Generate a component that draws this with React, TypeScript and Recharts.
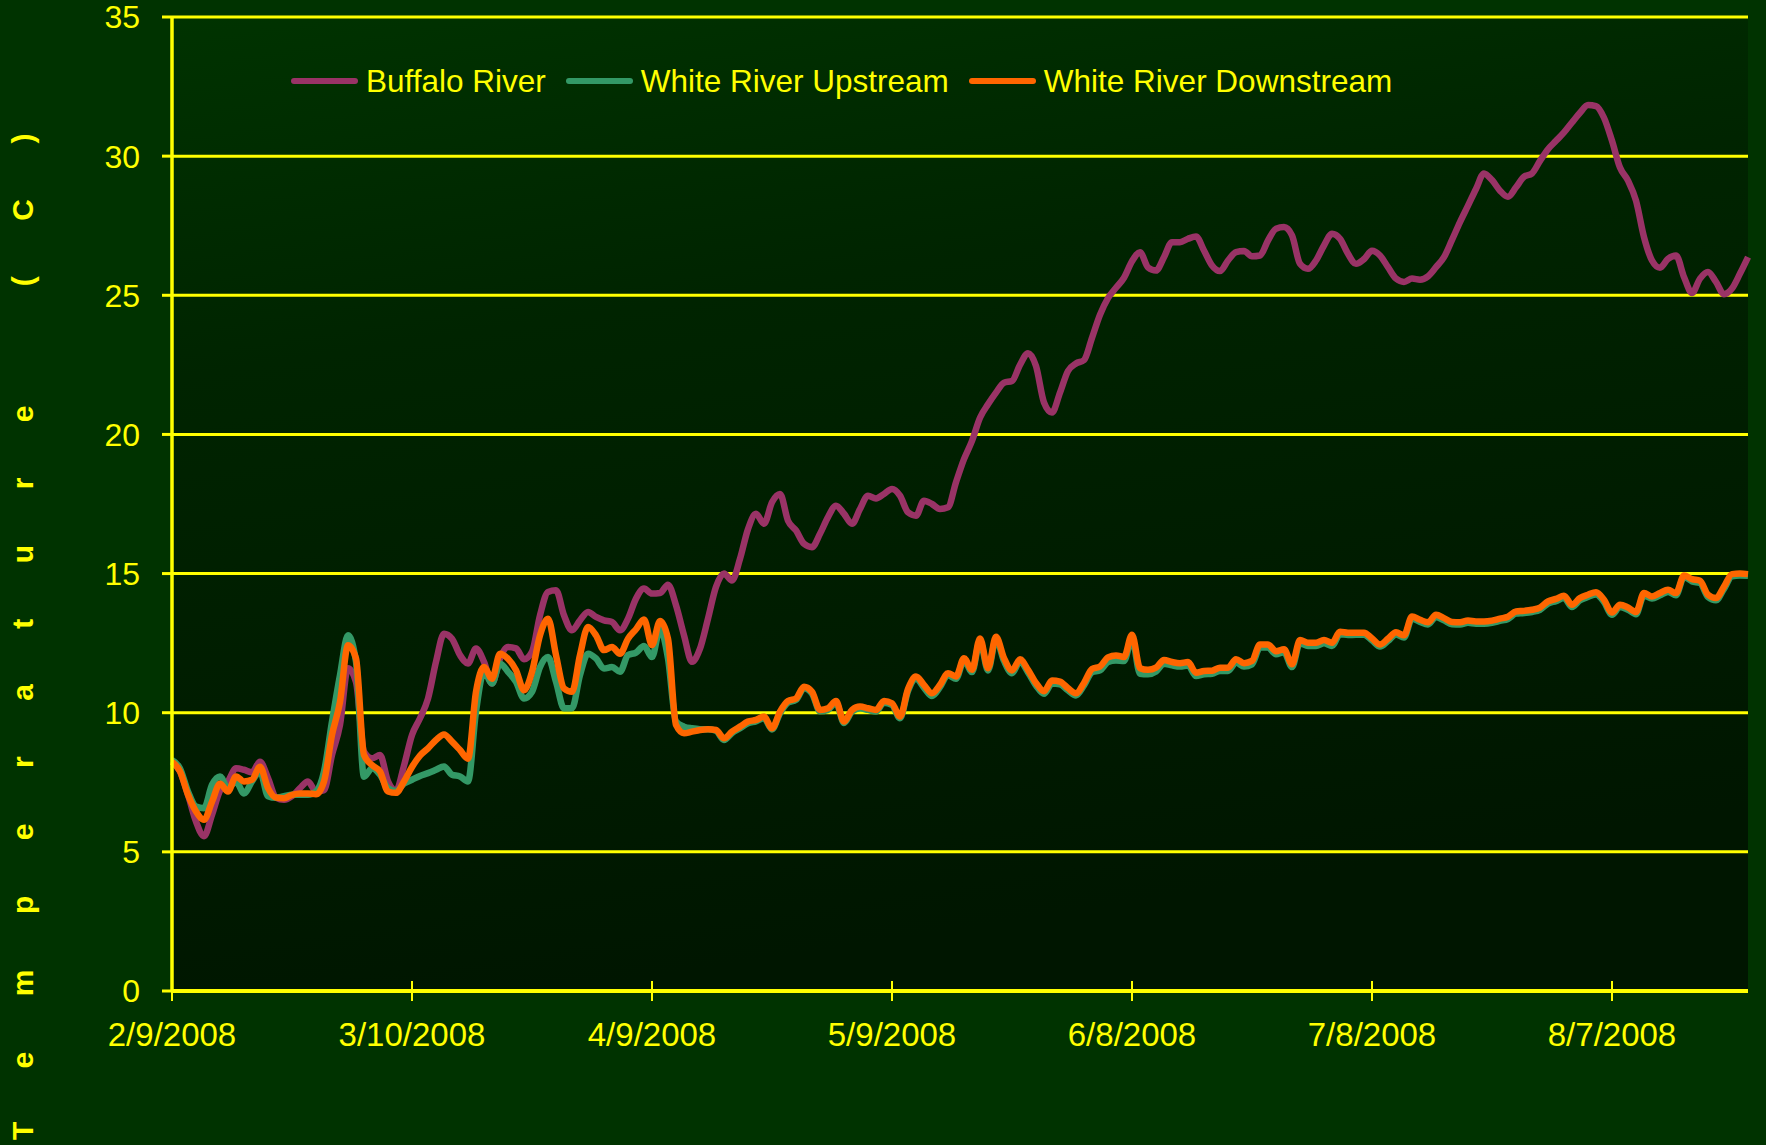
import React from "react";
import { LineChart, Line, XAxis, YAxis, CartesianGrid, Legend } from "recharts";

const YELLOW = "#FFFF00";
const FONT = '"Liberation Sans", Arial, sans-serif';

// daily water temperature (C), starting 2/9/2008
const BUFFALO_RIVER = [
  8.24, 7.89, 7.05, 6.09, 5.56, 6.33, 7.2, 7.53, 8.0, 7.95,
  7.86, 8.24, 7.65, 6.95, 6.87, 7.0, 7.29, 7.53, 7.17, 7.22,
  8.48, 9.56, 11.6, 11.1, 8.6, 8.36, 8.48, 7.53, 7.2, 8.1,
  9.2, 9.8, 10.51, 11.83, 12.84, 12.66, 12.07, 11.77, 12.31, 11.83,
  11.05, 11.95, 12.36, 12.31, 11.92, 12.19, 13.5, 14.34, 14.4, 13.5,
  12.96, 13.32, 13.62, 13.44, 13.32, 13.26, 12.96, 13.38, 14.1, 14.46,
  14.28, 14.3, 14.6, 13.86, 12.78, 11.83, 12.3, 13.38, 14.52, 15.0,
  14.75, 15.53, 16.6, 17.15, 16.79, 17.56, 17.86, 16.9, 16.55, 16.07,
  15.95, 16.43, 17.03, 17.44, 17.15, 16.79, 17.32, 17.8, 17.7, 17.86,
  18.04, 17.8, 17.2, 17.08, 17.62, 17.5, 17.32, 17.38, 18.28, 19.11,
  19.77, 20.6, 21.08, 21.5, 21.86, 21.92, 22.5, 22.92, 22.46, 21.15,
  20.79, 21.5, 22.28, 22.55, 22.67, 23.47, 24.3, 24.9, 25.27, 25.63,
  26.22, 26.55, 26.0, 25.89, 26.37, 26.91, 26.91, 27.03, 27.11, 26.61,
  26.07, 25.87, 26.25, 26.55, 26.59, 26.4, 26.43, 26.97, 27.39, 27.45,
  27.15, 26.13, 25.95, 26.25, 26.79, 27.21, 27.03, 26.49, 26.13, 26.3,
  26.6, 26.43, 26.01, 25.6, 25.48, 25.6, 25.56, 25.68, 26.01, 26.37,
  26.99, 27.63, 28.22, 28.82, 29.38, 29.14, 28.76, 28.54, 28.88, 29.26,
  29.38, 29.83, 30.25, 30.55, 30.85, 31.21, 31.56, 31.84, 31.8, 31.38,
  30.55, 29.59, 29.12, 28.4, 27.09, 26.25, 25.99, 26.31, 26.43, 25.66,
  25.08, 25.6, 25.84, 25.48, 25.04, 25.24, 25.78, 26.37,
];

const WHITE_RIVER_UPSTREAM = [
  8.3, 8.0, 7.17, 6.63, 6.57, 7.41, 7.71, 7.29, 7.53, 7.1,
  7.53, 7.89, 7.0, 6.94, 7.0, 7.05, 7.05, 7.05, 7.17, 7.89,
  9.68, 11.35, 12.78, 11.83, 7.7, 8.0, 7.77, 7.29, 7.19, 7.45,
  7.59, 7.73, 7.83, 7.95, 8.07, 7.77, 7.71, 7.53, 10.04, 11.47,
  11.05, 11.77, 11.47, 11.11, 10.51, 10.75, 11.64, 12.0, 11.11, 10.16,
  10.16, 11.35, 12.12, 11.95, 11.59, 11.64, 11.47, 12.07, 12.16, 12.4,
  12.0, 13.0, 11.95, 9.68, 9.5, 9.44, 9.41, 9.41, 9.35, 9.02,
  9.27, 9.44, 9.62, 9.69, 9.8, 9.4, 9.98, 10.36, 10.46, 10.88,
  10.69, 10.05, 10.1, 10.36, 9.63, 10.04, 10.16, 10.1, 10.04, 10.36,
  10.28, 9.8, 10.78, 11.22, 10.9, 10.6, 10.92, 11.35, 11.22, 11.88,
  11.46, 12.58, 11.52, 12.64, 11.86, 11.42, 11.83, 11.45, 10.98, 10.68,
  11.05, 11.02, 10.8, 10.62, 10.98, 11.45, 11.52, 11.82, 11.88, 11.86,
  12.66, 11.4, 11.38, 11.48, 11.76, 11.7, 11.66, 11.7, 11.32, 11.38,
  11.4, 11.5, 11.5, 11.8, 11.66, 11.74, 12.34, 12.34, 12.1, 12.17,
  11.64, 12.5, 12.4, 12.4, 12.5, 12.4, 12.82, 12.79, 12.8, 12.8,
  12.6, 12.38, 12.58, 12.81, 12.7, 13.38, 13.26, 13.17, 13.44, 13.32,
  13.18, 13.17, 13.23, 13.2, 13.2, 13.23, 13.3, 13.37, 13.56, 13.58,
  13.62, 13.7, 13.92, 14.01, 14.12, 13.8, 14.04, 14.16, 14.25, 13.98,
  13.52, 13.8, 13.7, 13.54, 14.22, 14.1, 14.22, 14.34, 14.22, 14.88,
  14.72, 14.66, 14.16, 14.04, 14.45, 14.9, 14.93, 14.92,
];

const WHITE_RIVER_DOWNSTREAM = [
  8.24, 7.89, 7.05, 6.45, 6.15, 6.8, 7.45, 7.17, 7.71, 7.53,
  7.59, 8.06, 7.29, 6.95, 6.93, 7.05, 7.1, 7.1, 7.07, 7.53,
  9.2, 10.39, 12.42, 11.95, 8.48, 8.12, 7.89, 7.17, 7.12, 7.53,
  8.05, 8.46, 8.72, 9.02, 9.22, 8.96, 8.66, 8.35, 10.75, 11.64,
  11.22, 12.12, 11.94, 11.53, 10.81, 11.47, 12.78, 13.38, 12.07, 10.87,
  10.75, 12.07, 13.08, 12.78, 12.25, 12.36, 12.12, 12.66, 13.0, 13.35,
  12.43, 13.3, 12.66, 9.56, 9.26, 9.32, 9.38, 9.41, 9.38, 9.08,
  9.32, 9.5, 9.68, 9.74, 9.86, 9.44, 10.04, 10.42, 10.51, 10.93,
  10.75, 10.1, 10.16, 10.42, 9.68, 10.1, 10.22, 10.16, 10.1, 10.42,
  10.34, 9.86, 10.85, 11.3, 11.0, 10.7, 11.0, 11.42, 11.3, 11.96,
  11.54, 12.67, 11.6, 12.73, 11.96, 11.52, 11.92, 11.54, 11.07, 10.77,
  11.16, 11.12, 10.88, 10.7, 11.07, 11.57, 11.66, 11.99, 12.06, 12.0,
  12.8, 11.6, 11.54, 11.62, 11.89, 11.82, 11.78, 11.82, 11.44, 11.5,
  11.51, 11.62, 11.62, 11.92, 11.78, 11.86, 12.45, 12.45, 12.21, 12.28,
  11.74, 12.61, 12.51, 12.51, 12.61, 12.51, 12.91, 12.87, 12.87, 12.87,
  12.67, 12.45, 12.66, 12.89, 12.78, 13.46, 13.34, 13.25, 13.52, 13.4,
  13.26, 13.25, 13.31, 13.28, 13.28, 13.31, 13.38, 13.45, 13.64, 13.66,
  13.7, 13.78, 14.0, 14.09, 14.2, 13.88, 14.12, 14.24, 14.33, 14.06,
  13.6, 13.88, 13.78, 13.62, 14.3, 14.18, 14.3, 14.42, 14.3, 14.93,
  14.8, 14.74, 14.24, 14.12, 14.53, 14.98, 15.0, 14.98,
];

const TICK_LABELS = [
  "2/9/2008",
  "3/10/2008",
  "4/9/2008",
  "5/9/2008",
  "6/8/2008",
  "7/8/2008",
  "8/7/2008",
];
const Y_TICKS = [0, 5, 10, 15, 20, 25, 30, 35];

const SERIES = [
  { key: "buffalo", name: "Buffalo River", color: "#993366" },
  { key: "upstream", name: "White River Upstream", color: "#339966" },
  { key: "downstream", name: "White River Downstream", color: "#FF6600" },
];

// one category per day from 2/9/2008
const DATES = BUFFALO_RIVER.map((_, i) => {
  const d = new Date(2008, 1, 9 + i);
  return `${d.getMonth() + 1}/${d.getDate()}/${d.getFullYear()}`;
});

const data = DATES.map((date, i) => ({
  date,
  buffalo: BUFFALO_RIVER[i],
  upstream: WHITE_RIVER_UPSTREAM[i],
  downstream: WHITE_RIVER_DOWNSTREAM[i],
}));

function DateTick(props: any) {
  const { x, y, payload } = props;
  return (
    <g>
      <line x1={x} x2={x} y1={y - 20} y2={y} stroke={YELLOW} strokeWidth={2} />
      <text
        x={x}
        y={y + 45}
        textAnchor="middle"
        fill={YELLOW}
        fontSize={33}
        fontFamily={FONT}
      >
        {payload.value}
      </text>
    </g>
  );
}

function AxisTitle() {
  return (
    <text
      transform="translate(33,1140) rotate(-90)"
      fill={YELLOW}
      fontSize={30}
      fontWeight="bold"
      fontFamily={FONT}
      style={{ letterSpacing: 55.5 }}
    >
      Temperature (C)
    </text>
  );
}

function LegendRow() {
  return (
    <div
      style={{
        display: "flex",
        alignItems: "center",
        height: 52,
        paddingLeft: 291,
        fontFamily: FONT,
        fontSize: 31.5,
        color: YELLOW,
        whiteSpace: "nowrap",
      }}
    >
      {SERIES.map((s, i) => (
        <div
          key={s.key}
          style={{ display: "flex", alignItems: "center", marginLeft: i ? 20 : 0 }}
        >
          <svg width={67} height={10}>
            <line
              x1={3}
              x2={64}
              y1={5}
              y2={5}
              stroke={s.color}
              strokeWidth={6}
              strokeLinecap="round"
            />
          </svg>
          <span style={{ marginLeft: 8 }}>{s.name}</span>
        </div>
      ))}
    </div>
  );
}

export default function App() {
  return (
    <div
      style={{
        position: "absolute",
        left: 0,
        top: 0,
        width: 1766,
        height: 1145,
        background: "#003300",
        overflow: "hidden",
      }}
    >
      <LineChart
        width={1766}
        height={1145}
        data={data}
        margin={{ top: 17, right: 18, bottom: 94, left: 0 }}
      >
        <defs>
          <linearGradient id="plotBg" x1="0" y1="0" x2="0.25" y2="1">
            <stop offset="0%" stopColor="#003300" />
            <stop offset="35%" stopColor="#002400" />
            <stop offset="100%" stopColor="#001600" />
          </linearGradient>
        </defs>
        <CartesianGrid
          vertical={false}
          stroke={YELLOW}
          strokeWidth={3}
          fill="url(#plotBg)"
          fillOpacity={1}
        />
        <XAxis
          dataKey="date"
          ticks={TICK_LABELS}
          interval={0}
          height={60}
          tickSize={10}
          tickMargin={0}
          tickLine={false}
          axisLine={{ stroke: YELLOW, strokeWidth: 4 }}
          tick={<DateTick />}
        />
        <YAxis
          domain={[0, 35]}
          ticks={Y_TICKS}
          interval={0}
          width={172}
          tickSize={10}
          tickMargin={22}
          axisLine={{ stroke: YELLOW, strokeWidth: 3.5 }}
          tickLine={{ stroke: YELLOW, strokeWidth: 3 }}
          tick={{ fill: YELLOW, fontSize: 32, fontFamily: FONT }}
          label={<AxisTitle />}
        />
        <Legend
          verticalAlign="middle"
          align="center"
          layout="horizontal"
          wrapperStyle={{ top: 55, left: 0, width: 1766 }}
          content={() => <LegendRow />}
        />
        {SERIES.map((s) => (
          <Line
            key={s.key}
            type="monotone"
            dataKey={s.key}
            name={s.name}
            stroke={s.color}
            strokeWidth={6.5}
            strokeLinejoin="round"
            dot={false}
            activeDot={false}
            isAnimationActive={false}
          />
        ))}
      </LineChart>
    </div>
  );
}
